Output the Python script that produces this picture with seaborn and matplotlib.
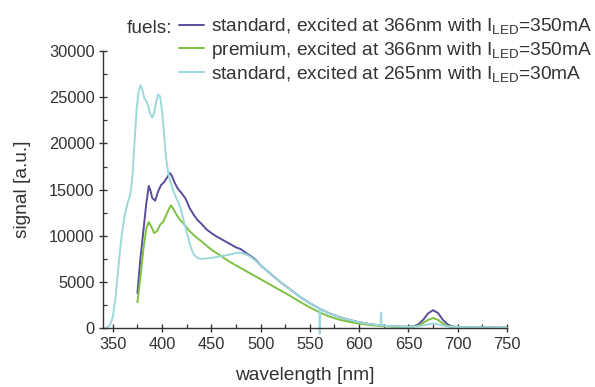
import numpy as np
import pandas as pd
import matplotlib
matplotlib.use("Agg")
import matplotlib.pyplot as plt
from matplotlib.ticker import MultipleLocator
import seaborn as sns

# Fluorescence spectra of two fuels
std366_wl = [375, 378, 381, 384, 386.5, 388, 390, 393, 396, 399, 402, 405, 408, 410, 413, 416,
             420, 424, 428, 432, 436, 440, 445, 450, 455, 460, 465, 470, 475, 480, 485, 490,
             495, 500, 510, 520, 530, 540, 550, 560, 570, 580, 590, 600, 610, 620, 630, 640,
             650, 655, 660, 665, 670, 675, 680, 685, 690, 695, 700, 720, 750]
std366_sig = [3800, 7500, 10500, 13500, 15400, 15000, 14100, 13800, 14800, 15500, 15800, 16300,
              16800, 16500, 15700, 15100, 14600, 14000, 13000, 12300, 11700, 11300, 10700, 10300,
              9950, 9650, 9350, 9050, 8750, 8550, 8150, 7800, 7400, 6800, 5900, 5000, 4200, 3400,
              2700, 2100, 1600, 1200, 900, 650, 450, 320, 230, 170, 150, 200, 400, 900, 1600,
              1950, 1650, 900, 400, 180, 120, 80, 50]

prem366_wl = [375, 378, 381, 384, 386.5, 389, 392, 395, 398, 401, 404, 407, 409, 411, 414, 417,
              422, 428, 434, 440, 450, 460, 470, 480, 490, 500, 510, 520, 530, 540, 550, 560,
              570, 580, 590, 600, 610, 620, 630, 640, 650, 660, 665, 670, 675, 680, 685, 690,
              700, 750]
prem366_sig = [2800, 5500, 8500, 10800, 11500, 11000, 10300, 10500, 11200, 11500, 12200, 12900,
               13300, 13000, 12400, 11900, 11300, 10500, 9900, 9400, 8500, 7800, 7100, 6500,
               5900, 5300, 4700, 4100, 3500, 2850, 2250, 1700, 1250, 920, 680, 500, 350, 250,
               180, 140, 120, 250, 550, 900, 1100, 900, 500, 230, 100, 40]

std265_wl = [343, 347, 350, 353, 356, 359, 362, 365, 368, 370, 372, 374, 376, 378, 380, 382,
             384, 386, 388, 390, 392, 394, 396, 398, 400, 402, 404, 406, 408, 411, 414, 417,
             420, 423, 426, 429, 432, 436, 440, 450, 460, 470, 478, 485, 490, 495, 500, 510,
             520, 530, 540, 550, 558, 559.6, 560, 560.4, 570, 580, 590, 600, 610, 620, 621.8,
             622.3, 622.8, 630, 640, 650, 660, 670, 675, 680, 690, 700, 750]
std265_sig = [0, 300, 1200, 3500, 7000, 10000, 12200, 13500, 14600, 16500, 20000, 23500, 25500,
              26300, 25800, 24900, 24600, 24000, 23200, 22800, 23300, 24500, 25300, 25100, 23500,
              21000, 18500, 17000, 16000, 15000, 14200, 13500, 12500, 11200, 10000, 8800, 8000,
              7600, 7500, 7600, 7800, 8000, 8200, 8000, 7700, 7300, 6800, 5900, 5000, 4200, 3400,
              2700, 2200, 2150, -600, 2100, 1600, 1200, 900, 650, 450, 330, 310, 1700, 300, 230,
              170, 140, 200, 400, 500, 400, 180, 120, 50]

labels = [r"standard, excited at 366nm with I$_{\mathrm{LED}}$=350mA",
          r"premium, excited at 366nm with I$_{\mathrm{LED}}$=350mA",
          r"standard, excited at 265nm with I$_{\mathrm{LED}}$=30mA"]
colors = ["#5a4d9b", "#7dc143", "#9cd8dc"]

frames = []
for lab, wl, sig in zip(labels, [std366_wl, prem366_wl, std265_wl],
                        [std366_sig, prem366_sig, std265_sig]):
    frames.append(pd.DataFrame({"wavelength": wl, "signal": sig, "series": lab}))
df = pd.concat(frames, ignore_index=True)

sns.set_style("ticks")
plt.rcParams["font.family"] = ["Liberation Sans", "DejaVu Sans"]
plt.rcParams["mathtext.fontset"] = "custom"
plt.rcParams["mathtext.rm"] = "Liberation Sans"
plt.rcParams["mathtext.it"] = "Liberation Sans"

TXT = "#333333"
fig = plt.figure(figsize=(5.95, 3.87), dpi=100)
ax = fig.add_axes([0.173, 0.152, 0.679, 0.716])

sns.lineplot(data=df, x="wavelength", y="signal", hue="series", hue_order=labels,
             palette=colors, estimator=None, sort=False, linewidth=1.4, ax=ax,
             legend=False)
for ln in ax.lines:
    ln.set_clip_on(False)

ax.set_xlim(340, 750)
ax.set_ylim(0, 30000)
ax.xaxis.set_major_locator(MultipleLocator(50))
ax.xaxis.set_minor_locator(MultipleLocator(25))
ax.yaxis.set_major_locator(MultipleLocator(5000))
ax.yaxis.set_minor_locator(MultipleLocator(2500))
ax.tick_params(which="major", direction="inout", length=6, width=1.0, colors="#333333",
               labelsize=11.8, labelcolor=TXT, pad=3)
ax.tick_params(which="minor", direction="in", length=3, width=0.9, colors="#333333")
for s in ["top", "right"]:
    ax.spines[s].set_visible(False)
for s in ["left", "bottom"]:
    ax.spines[s].set_linewidth(1.0)
    ax.spines[s].set_color("#333333")

ax.set_xlabel("wavelength [nm]", fontsize=13.8, color=TXT, labelpad=11)
ax.set_ylabel("signal [a.u.]", fontsize=13.8, color=TXT, labelpad=13)

handles = [plt.Line2D([], [], color=c, lw=1.4) for c in colors]
fig.legend(handles, labels, loc="upper left", bbox_to_anchor=(0.300, 0.958),
           frameon=False, fontsize=13.8, handlelength=1.35, handletextpad=0.35,
           labelspacing=0.17, borderpad=0, borderaxespad=0, labelcolor=TXT)
fig.text(0.213, 0.927, "fuels:", fontsize=13.8, color=TXT, va="center", ha="left")

fig.savefig("out.png", dpi=100)
